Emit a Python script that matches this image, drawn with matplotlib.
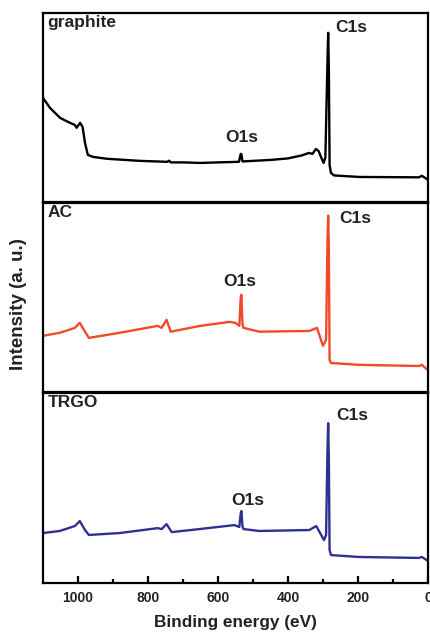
import matplotlib.pyplot as plt

plt.rcParams['font.family'] = ['Liberation Sans', 'DejaVu Sans']
plt.rcParams['font.weight'] = 'bold'

# binding energy (eV) and intensity (a.u., 0-100 per panel)
graphite_e = [1100, 1080, 1051, 1023, 1009, 1004, 994, 987, 980, 972, 957, 917, 823,
              745, 740, 735, 700, 650, 600, 540, 535, 533, 530, 500, 450, 400, 360, 340,
              330, 320, 312, 305, 298, 293, 287, 285, 283, 281, 277, 268, 197, 26, 17, 4]
graphite_i = [55, 49.7, 44.4, 41.8, 40.7, 39.2, 41.8, 39.7, 31.2, 24.9, 23.8, 22.8, 21.7,
              21.2, 21.8, 20.9, 20.9, 20.6, 20.9, 21.2, 25.4, 25.2, 21.4, 21.7, 22.2, 23,
              24.6, 25.9, 25.4, 28, 26.8, 23.5, 20.6, 23.5, 75, 89.4, 70, 19.6, 15.3, 14,
              13.2, 13, 13.8, 12.2]

ac_e = [1100, 1052, 1009, 995, 980, 969, 881, 772, 761, 747, 735, 653, 567, 550, 539,
        535, 533, 530, 527, 482, 339, 317, 300, 291, 287, 285, 283, 281, 277, 197, 26,
        17, 4]
ac_i = [29.8, 31.4, 34, 36.7, 32, 28.7, 31.4, 35.1, 34, 38.3, 32, 35, 37.2, 36.7, 35.1,
        50, 51.6, 36, 34, 32, 32.4, 34, 24.5, 27.7, 80, 93.6, 75, 17, 15.4, 14.4, 13.8,
        14.4, 12.2]

trgo_e = [1100, 1052, 1009, 995, 980, 969, 881, 772, 761, 747, 732, 653, 553, 539, 535,
          533, 530, 527, 482, 339, 319, 297, 291, 287, 285, 283, 281, 277, 197, 26, 17, 4]
trgo_i = [26.3, 27.4, 30, 32.6, 27.9, 25.3, 26.3, 28.9, 28.4, 31, 26.8, 28.4, 30.5, 29.5,
          36.5, 37.9, 30, 28.4, 27.4, 27.9, 30, 22.6, 25.3, 70, 84.2, 65, 17.4, 14.7, 13.7,
          13.2, 13.7, 12.1]

names = ['graphite', 'AC', 'TRGO']
colors = ['black', '#f04a2a', '#2e3192']
# label positions: (C1s x, C1s y, O1s x, O1s y)
label_pos = [(264, 92, 578, 33.9), (253, 92, 584, 58.5), (261, 88.4, 561, 43.7)]
spectra = [(graphite_e, graphite_i), (ac_e, ac_i), (trgo_e, trgo_i)]

fig = plt.figure(figsize=(4.31, 6.37), dpi=100)
rects = [[0.0998, 0.683, 0.893, 0.297],
         [0.0998, 0.3846, 0.893, 0.296],
         [0.0998, 0.0848, 0.893, 0.298]]

for k in range(3):
    ax = fig.add_axes(rects[k])
    e, inten = spectra[k]
    ax.plot(e, inten, color=colors[k], lw=1.7)
    ax.set_xlim(1100, 0)
    ax.set_ylim(0, 100)
    ax.set_yticks([])
    for s in ax.spines.values():
        s.set_linewidth(1.6)
    ax.text(0.012, 0.99, names[k], transform=ax.transAxes, ha='left', va='top',
            fontsize=12.5, fontweight='bold', color='#222222')
    cx, cy, ox, oy = label_pos[k]
    ax.text(cx, cy, 'C1s', ha='left', va='center', fontsize=12.5, fontweight='bold', color='#222222')
    ax.text(ox, oy, 'O1s', ha='left', va='center', fontsize=12.5, fontweight='bold', color='#222222')
    if k < 2:
        ax.set_xticks([])
    else:
        ax.set_xticks([1000, 800, 600, 400, 200, 0])
        ax.set_xticks([900, 700, 500, 300, 100], minor=True)
        ax.tick_params(axis='x', which='major', direction='in', length=5, width=1.6,
                       labelsize=10, pad=6)
        ax.tick_params(axis='x', which='minor', direction='in', length=3, width=1.6)
        for lab in ax.get_xticklabels():
            lab.set_fontweight('bold')
            lab.set_color('#222222')
        ax.set_xlabel('Binding energy (eV)', fontsize=12.4, fontweight='bold', color='#222222',
                      labelpad=7)

fig.text(0.044, 0.522, 'Intensity (a. u.)', rotation=90, ha='center', va='center',
         fontsize=13.5, fontweight='bold', color='#222222')

fig.savefig('out.png', dpi=100)
